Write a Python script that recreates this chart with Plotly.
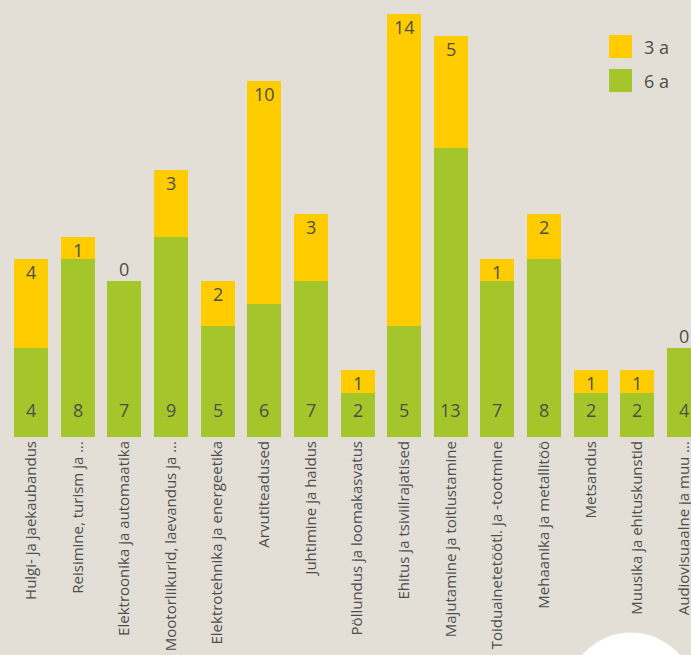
import plotly.graph_objects as go

# ----------------------------------------------------------------------
#  Data
# ----------------------------------------------------------------------

categories = [
    "Hulgi- ja jaekaubandus",
    "Reisimine, turism ja ...",
    "Elektroonika ja automaatika",
    "Mootorliikurid, laevandus ja ...",
    "Elektrotehnika ja energeetika",
    "Arvutiteadused",
    "Juhtimine ja haldus",
    "Pöllundus ja loomakasvatus",
    "Ehitus ja tsiviilrajatised",
    "Majutamine ja toitlustamine",
    "Toiduainetetöötl. ja -tootmine",
    "Mehaanika ja metallitöö",
    "Metsandus",
    "Muusika ja ehituskunstid",
    "Audiovisuaalne ja muu ...",
]

six_years   = [4, 8, 7, 9, 5, 6, 7, 2, 5, 13, 7, 8, 2, 2, 4]
three_years = [4, 1, 0, 3, 2, 10, 3, 1, 14, 5, 1, 2, 1, 1, 0]

series_names = ["6 a", "3 a"]

# ----------------------------------------------------------------------
#  Style
# ----------------------------------------------------------------------

bg_color     = "#E3DFD6"
green_color  = "#A5C62A"
yellow_color = "#FFCC00"
text_color   = "#4D4D4D"
font_family  = "Open Sans"

x = list(range(len(categories)))

fig = go.Figure()

fig.add_trace(go.Bar(
    x=x, y=six_years, name=series_names[0],
    marker=dict(color=green_color, line=dict(width=0)),
    showlegend=False, hoverinfo="skip"))

fig.add_trace(go.Bar(
    x=x, y=three_years, name=series_names[1],
    marker=dict(color=yellow_color, line=dict(width=0)),
    showlegend=False, hoverinfo="skip"))

# Value labels: green at the bar foot, yellow near the top of the stack

annotations = []
for i, (g, y3) in enumerate(zip(six_years, three_years)):
    annotations.append(dict(
        x=i, y=0, xref="x", yref="y", text=str(g), showarrow=False,
        yshift=27, yanchor="middle",
        font=dict(family=font_family, size=18, color=text_color)))
    annotations.append(dict(
        x=i, y=g + y3, xref="x", yref="y", text=str(y3), showarrow=False,
        yshift=(-13 if y3 > 0 else 12), yanchor="middle",
        font=dict(family=font_family, size=18, color=text_color)))

# Hand-made legend with large square swatches

shapes = []
legend_items = [(series_names[1], yellow_color, 35), (series_names[0], green_color, 69)]
plot_h = 437.0
for name, color, top in legend_items:
    shapes.append(dict(
        type="rect", xref="paper", yref="paper",
        x0=609 / 691, x1=632 / 691,
        y0=(plot_h - top - 23) / plot_h, y1=(plot_h - top) / plot_h,
        fillcolor=color, line=dict(width=0)))
    annotations.append(dict(
        x=642 / 691, y=(plot_h - top - 11.5) / plot_h, xref="paper", yref="paper",
        text=name, showarrow=False, xanchor="left", yanchor="middle",
        font=dict(family=font_family, size=18, color=text_color)))

# Decorative white circle at the lower right corner
shapes.append(dict(
    type="circle", xref="paper", yref="paper", layer="below",
    x0=566.5 / 691, x1=695.5 / 691,
    y0=(plot_h - 761.5) / plot_h, y1=(plot_h - 632.5) / plot_h,
    fillcolor="white", line=dict(width=0)))

fig.update_layout(
    width=691, height=655,
    barmode="stack", bargap=0.271,
    paper_bgcolor=bg_color, plot_bgcolor=bg_color,
    margin=dict(l=0, r=0, t=0, b=218),
    font=dict(family=font_family, color=text_color),
    annotations=annotations, shapes=shapes,
    showlegend=False,
)

fig.update_xaxes(
    range=[-0.665, 14.15], automargin=False,
    tickmode="array", tickvals=x, ticktext=categories,
    tickangle=-90, tickfont=dict(family=font_family, size=15, color=text_color),
    ticklabeloverflow="allow",
    showgrid=False, zeroline=False, showline=False, ticks="", ticklen=0,
)

fig.update_yaxes(
    range=[0, 19.64], visible=False, automargin=False,
    showgrid=False, zeroline=False,
)

# drop the default page margin so the figure sits flush in the window
fig.write_html("out.html",
               config={"displayModeBar": False},
               post_script="document.body.style.margin='0';"
                           "document.body.style.overflow='hidden';")
